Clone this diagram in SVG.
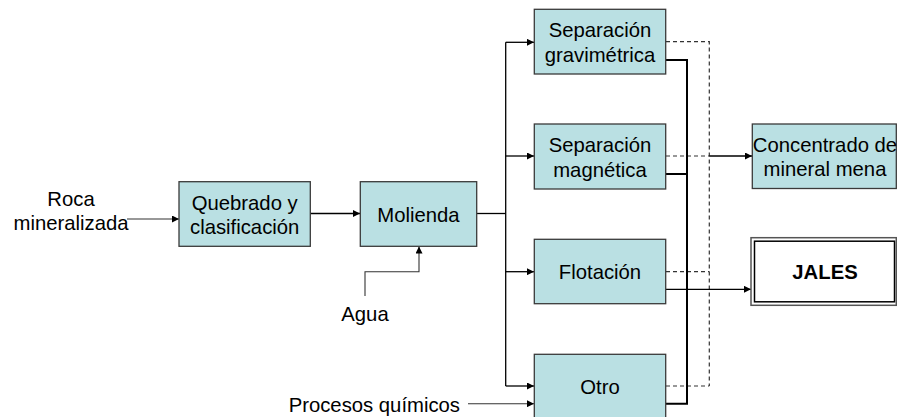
<svg xmlns="http://www.w3.org/2000/svg" width="897" height="417" viewBox="0 0 897 417">
<defs>
<marker id="arr" viewBox="0 0 10 10" refX="10" refY="5" markerWidth="8" markerHeight="7" markerUnits="userSpaceOnUse" orient="auto">
<path d="M0,0 L10,5 L0,10 z" fill="#000"/>
</marker>
</defs>
<style>
.box{fill:#BAE0E3;stroke:#3a3a3a;stroke-width:1.3}
.t{font-family:"Liberation Sans",Arial,sans-serif;font-size:20.3px;fill:#000;text-anchor:middle}
.b{font-weight:bold}
.ln{fill:none;stroke:#000;stroke-width:1.3}
.in{fill:none;stroke:#333;stroke-width:1.1}
.out{fill:none;stroke:#000;stroke-width:2}
.dash{fill:none;stroke:#333;stroke-width:1.2;stroke-dasharray:4 3}
</style>
<rect width="897" height="417" fill="#fff"/>
<g id="connectors">
<path class="in" d="M127,219 H179" marker-end="url(#arr)"/>
<path class="ln" d="M310,213.5 H360" marker-end="url(#arr)"/>
<path class="in" d="M365,296 V271.7 H419 V246.5" marker-end="url(#arr)"/>
<path class="ln" d="M476.7,213.5 H505.7"/>
<path class="ln" d="M505.7,42.3 V386"/>
<path class="ln" d="M505.7,42.3 H534" marker-end="url(#arr)"/>
<path class="ln" d="M505.7,156 H534" marker-end="url(#arr)"/>
<path class="ln" d="M505.7,271.7 H534" marker-end="url(#arr)"/>
<path class="ln" d="M505.7,386 H534" marker-end="url(#arr)"/>
<path class="in" d="M468,403.7 H534" marker-end="url(#arr)"/>
<path class="dash" d="M666,41.7 H709.3 V386 M666,156 H709.3 M666,271.7 H709.3 M666,386 H709.3"/>
<path class="ln" d="M709.3,156 H752" marker-end="url(#arr)"/>
<path class="out" d="M666,60 H687 V403.7 H666 M666,174 H687"/>
<path class="ln" d="M666,289.3 H751" marker-end="url(#arr)"/>
</g>
<g id="roca"><text class="t" x="71" y="206">Roca</text><text class="t" x="71" y="230">mineralizada</text></g>
<g id="quebrado"><rect class="box" x="179" y="181.7" width="131.3" height="64.6"/><text class="t" x="244.7" y="210">Quebrado y</text><text class="t" x="244.7" y="234">clasificación</text></g>
<g id="molienda"><rect class="box" x="360.3" y="181.7" width="116.4" height="64.6"/><text class="t" x="418.5" y="222">Molienda</text></g>
<g id="agua"><text class="t" x="365" y="321">Agua</text></g>
<g id="procesos"><text class="t" x="460" y="412" style="text-anchor:end">Procesos químicos</text></g>
<g id="gravimetrica"><rect class="box" x="534.3" y="9.3" width="131.4" height="64.7"/><text class="t" x="600" y="37.3">Separación</text><text class="t" x="600" y="62.3">gravimétrica</text></g>
<g id="magnetica"><rect class="box" x="534.3" y="124" width="131.4" height="65"/><text class="t" x="600" y="152">Separación</text><text class="t" x="600" y="177">magnética</text></g>
<g id="flotacion"><rect class="box" x="534.3" y="239.3" width="131.4" height="64.4"/><text class="t" x="600" y="279">Flotación</text></g>
<g id="otro"><rect class="box" x="534.3" y="354.3" width="131.4" height="70"/><text class="t" x="600" y="393.5">Otro</text></g>
<g id="concentrado"><rect class="box" x="752.3" y="124" width="144" height="64.5"/><text class="t" x="825" y="151.7">Concentrado de</text><text class="t" x="825" y="176">mineral mena</text></g>
<g id="jales"><rect x="751" y="237.7" width="145.3" height="67.6" fill="#fff" stroke="#555" stroke-width="1.5"/><rect x="754.5" y="241.2" width="140" height="60.6" fill="none" stroke="#000" stroke-width="1.5"/><text class="t b" x="825" y="279">JALES</text></g>
</svg>
